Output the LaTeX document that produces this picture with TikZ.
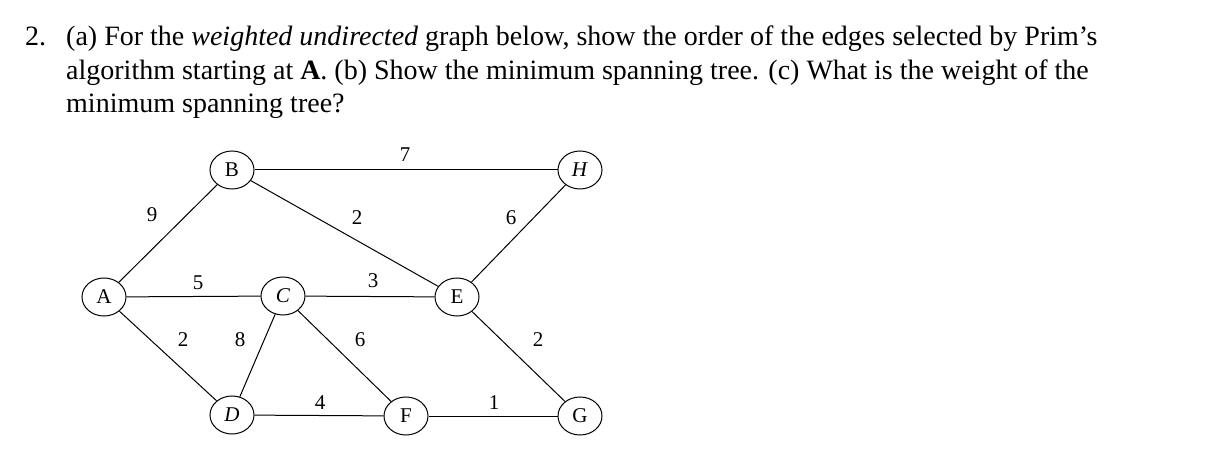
\documentclass[tikz,border=0pt]{standalone}
\usepackage{fontspec}
\setmainfont{Liberation Serif}
\usetikzlibrary{shapes.geometric}
\begin{document}
\begin{tikzpicture}[x=1pt,y=-1pt,
  v/.style={draw,line width=1pt,ellipse,minimum width=44pt,minimum height=38pt,inner sep=0pt,font=\fontsize{21}{21}\selectfont,fill=white},
  w/.style={font=\fontsize{21}{21}\selectfont,inner sep=0pt},
  e/.style={line width=1pt}]
\useasboundingbox (0,0) rectangle (1205,470);
\tikzset{t/.style={anchor=base west,inner sep=0pt,font=\fontsize{28}{33}\selectfont}}
\node[t] (num) at (25,46) {2.};
\node[t] (l1) at (66,46) {(a) For the \emph{weighted undirected} graph below, show the order of the edges selected by Prim's};
\node[t] (l2) at (66,80) {algorithm starting at \textbf{A}. (b) Show the minimum spanning tree. (c) What is the weight of the};
\node[t] (l3) at (66,113) {minimum spanning tree?};
\node[v] (A) at (104,297) {A};
\node[v] (B) at (232,170) {B};
\node[v] (C) at (283,296) {\emph{C}};
\node[v] (D) at (232,415) {\emph{D}};
\node[v] (E) at (457,297) {E};
\node[v] (F) at (406,416) {F};
\node[v] (G) at (580,416) {G};
\node[v] (H) at (580,170) {\emph{H}};
\draw[e] (A)--(B); \draw[e] (B)--(H); \draw[e] (B)--(E); \draw[e] (H)--(E);
\draw[e] (A)--(C); \draw[e] (C)--(E); \draw[e] (A)--(D); \draw[e] (C)--(D);
\draw[e] (C)--(F); \draw[e] (D)--(F); \draw[e] (F)--(G); \draw[e] (E)--(G);
\node[w] (w1) at (152,215) {9};
\node[w] (w2) at (405,155) {7};
\node[w] (w3) at (357,218) {2};
\node[w] (w4) at (511,218) {6};
\node[w] (w5) at (198,283) {5};
\node[w] (w6) at (373,281) {3};
\node[w] (w7) at (183,340) {2};
\node[w] (w8) at (240,340) {8};
\node[w] (w9) at (360,340) {6};
\node[w] (w10) at (320,403) {4};
\node[w] (w11) at (494,403) {1};
\node[w] (w12) at (538,340) {2};
\end{tikzpicture}
\end{document}
